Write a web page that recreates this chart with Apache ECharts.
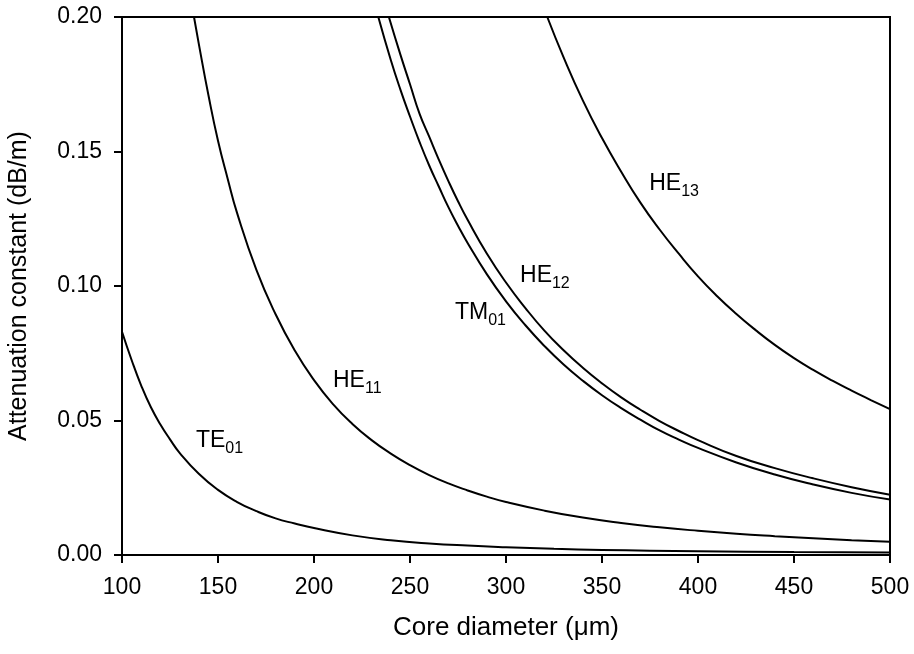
<!DOCTYPE html>
<html>
<head>
<meta charset="utf-8">
<script src="https://cdn.jsdelivr.net/npm/echarts@6/dist/echarts.min.js"></script>
<style>
html,body{margin:0;padding:0;background:#fff;}
#c{width:914px;height:654px;}
</style>
</head>
<body>
<div id="c"></div>
<script>
// Core diameter (um) vs attenuation constant (dB/m)
const TE01 = [[100,0.083],[105,0.0725],[110,0.0630],[115,0.0550],[120,0.0485],[125,0.0430],[130,0.0380],[140,0.0302],[150,0.0242],[160,0.0197],[170,0.0163],[180,0.0136],[190,0.0117],[200,0.0100],[220,0.0073],[240,0.0055],[260,0.0043],[280,0.0035],[300,0.0029],[325,0.0023],[350,0.0019],[375,0.0016],[400,0.0014],[450,0.0011],[500,0.0009]];
const HE11 = [[137.5,0.200],[140,0.190],[145,0.171],[150,0.154],[155,0.140],[160,0.127],[170,0.106],[180,0.0895],[190,0.0760],[200,0.0650],[210,0.0560],[220,0.0487],[230,0.0427],[240,0.0377],[250,0.0334],[260,0.0297],[270,0.0266],[280,0.0240],[290,0.0217],[300,0.0197],[320,0.0165],[340,0.0139],[360,0.0119],[380,0.0103],[400,0.0090],[420,0.0079],[440,0.0070],[460,0.0062],[480,0.0055],[500,0.0049]];
const TM01 = [[233.5,0.200],[240,0.184],[245,0.173],[250,0.163],[255,0.1535],[260,0.1448],[265,0.137],[270,0.1293],[275,0.1224],[280,0.1160],[290,0.1044],[300,0.0943],[310,0.0855],[320,0.0777],[330,0.0708],[340,0.0648],[350,0.0594],[360,0.0546],[370,0.0503],[380,0.0463],[390,0.0429],[400,0.0398],[420,0.0344],[440,0.0299],[460,0.0262],[480,0.0231],[500,0.0206]];
const HE12 = [[239,0.200],[245,0.186],[250,0.175],[255,0.164],[260,0.1555],[265,0.1470],[270,0.1390],[275,0.1315],[280,0.1246],[290,0.1121],[300,0.1013],[310,0.0919],[320,0.0834],[330,0.0761],[340,0.0696],[350,0.0638],[360,0.0586],[370,0.0540],[380,0.0498],[390,0.0461],[400,0.0427],[420,0.0368],[440,0.0323],[460,0.0285],[480,0.0252],[500,0.0224]];
const HE13 = [[321.5,0.200],[330,0.185],[340,0.169],[350,0.155],[360,0.1425],[370,0.131],[380,0.121],[390,0.112],[400,0.1036],[410,0.0962],[420,0.0896],[430,0.0836],[440,0.0781],[450,0.0732],[460,0.0688],[470,0.0648],[480,0.0611],[490,0.0576],[500,0.0542]];

const xTicks = [100,150,200,250,300,350,400,450,500];
const yTicks = [0.00,0.05,0.10,0.15,0.20];

// curve labels: [main, subscript, x(data), y(data)]
const curveLabels = [
  ['TE','01',138.5,0.0424],
  ['HE','11',209.9,0.0647],
  ['TM','01',273.4,0.0900],
  ['HE','12',307.3,0.1040],
  ['HE','13',374.6,0.1380]
];

const FONT = 'Liberation Sans, Arial, sans-serif';
const chart = echarts.init(document.getElementById('c'), null, {renderer:'canvas'});

function mk(name, data){
  return {name, type:'line', data, smooth:true, symbol:'none', clip:true,
    lineStyle:{color:'#000', width:2}, itemStyle:{color:'#000'}, z:3};
}

chart.setOption({
  animation:false,
  backgroundColor:'#fff',
  grid:{left:122, right:24, top:17, bottom:99, containLabel:false, outerBoundsMode:'none',
    show:true, borderColor:'#000', borderWidth:2, backgroundColor:'transparent'},
  xAxis:{type:'value', min:xTicks[0], max:xTicks[xTicks.length-1], interval:50,
    name:'Core diameter (\u03bcm)', nameLocation:'middle', nameGap:60,
    nameTextStyle:{color:'#000', fontFamily:FONT, fontSize:26},
    axisLine:{show:true, lineStyle:{color:'#000', width:2}},
    axisTick:{show:true, inside:false, length:8, lineStyle:{color:'#000', width:2}},
    axisLabel:{color:'#000', fontFamily:FONT, fontSize:23, margin:21},
    splitLine:{show:false}},
  yAxis:{type:'value', min:yTicks[0], max:yTicks[yTicks.length-1], interval:0.05,
    name:'Attenuation constant (dB/m)', nameLocation:'middle', nameGap:90, nameRotate:90,
    nameTextStyle:{color:'#000', fontFamily:FONT, fontSize:25},
    axisLine:{show:true, lineStyle:{color:'#000', width:2}},
    axisTick:{show:true, inside:false, length:8, lineStyle:{color:'#000', width:2}},
    axisLabel:{color:'#000', fontFamily:FONT, fontSize:23, margin:20, formatter:v=>v.toFixed(2)},
    splitLine:{show:false}},
  series:[mk('TE01',TE01), mk('HE11',HE11), mk('TM01',TM01), mk('HE12',HE12), mk('HE13',HE13)]
});

const g = curveLabels.map(([m,s,x,y])=>{
  const p = chart.convertToPixel({gridIndex:0},[x,y]);
  return {type:'text', x:p[0], y:p[1], z:10,
    style:{text:'{m|'+m+'}{s|'+s+'}', verticalAlign:'middle', align:'left',
      rich:{m:{fontFamily:FONT, fontSize:23, fill:'#000', lineHeight:32, verticalAlign:'middle'},
            s:{fontFamily:FONT, fontSize:16, fill:'#000', lineHeight:32, verticalAlign:'bottom'}}}};
});
chart.setOption({graphic:g});
</script>
</body>
</html>
